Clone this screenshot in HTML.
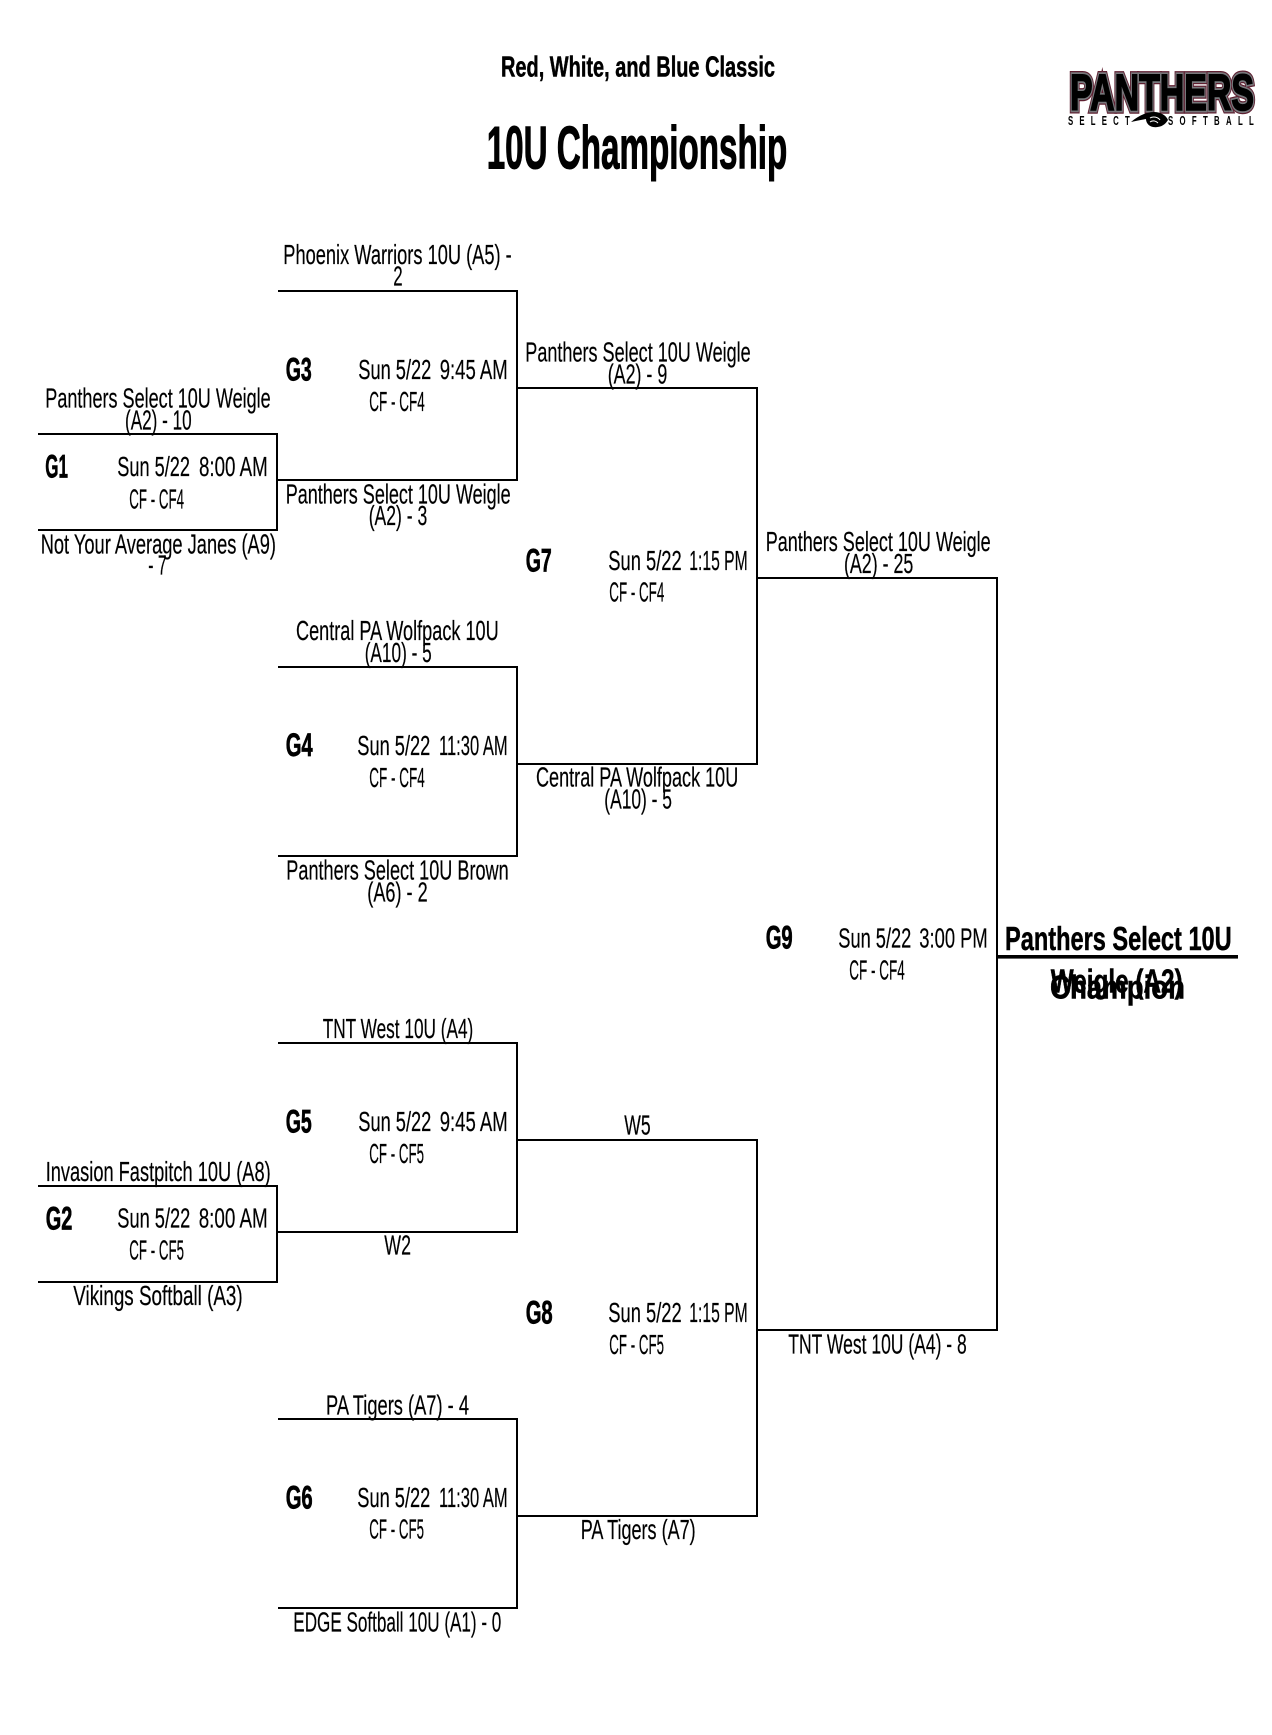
<!DOCTYPE html>
<html lang="en"><head><meta charset="utf-8"><title>10U Championship</title>
<style>
html,body{margin:0;padding:0;background:#fff}
svg{display:block}
text{font-family:"Liberation Sans",sans-serif;fill:#000}
.t{font-size:28px;stroke:#000;stroke-width:.2px;transform:translateY(-.7px)}
.g{font-size:32px;font-weight:700;stroke:#000;stroke-width:.7px;transform:translateY(-.7px)}
.h{font-weight:700;stroke:#000;stroke-width:.5px;transform:translateY(-.7px)}
.b{stroke-width:1.1px}
</style></head><body>
<svg xmlns="http://www.w3.org/2000/svg" width="1272" height="1735" viewBox="0 0 1272 1735">
<rect width="1272" height="1735" fill="#fff"/>
<g fill="none" stroke="#000" stroke-width="2">
<path d="M38 434H277V530H38"/><path d="M38 1186H277V1282H38"/>
<path d="M278 291H517V480H278"/><path d="M278 667H517V856H278"/>
<path d="M278 1043H517V1232H278"/><path d="M278 1419H517V1608H278"/>
<path d="M517 388H757V764H517"/><path d="M517 1140H757V1516H517"/>
<path d="M757 578H997V1330H757"/>
</g>
<rect x="997" y="955" width="241" height="3.6" fill="#000"/>

<text class="h" font-size="29" x="501" y="77.3" textLength="274" lengthAdjust="spacingAndGlyphs">Red, White, and Blue Classic</text>
<text class="h b" font-size="60" x="486.7" y="169.3" textLength="300.6" lengthAdjust="spacingAndGlyphs">10U Championship</text>

<!-- logo -->
<g font-weight="700">
<text x="1070" y="110" font-size="51" textLength="184" lengthAdjust="spacingAndGlyphs" style="fill:#5e1f30;stroke:#5e1f30;stroke-width:7.5;stroke-linejoin:miter">PANTHERS</text>
<text x="1070" y="110" font-size="51" textLength="184" lengthAdjust="spacingAndGlyphs" style="fill:#77777b;stroke:#77777b;stroke-width:5;stroke-linejoin:miter">PANTHERS</text>
<text x="1070" y="110" font-size="51" textLength="184" lengthAdjust="spacingAndGlyphs" style="fill:#000;stroke:#000;stroke-width:1.6">PANTHERS</text>
<text transform="translate(1068 125) scale(.6 1)" font-size="13" textLength="103" lengthAdjust="spacing">SELECT</text>
<text transform="translate(1168 125) scale(.6 1)" font-size="13" textLength="143" lengthAdjust="spacing">SOFTBALL</text>
</g>
<path d="M1131 122C1138 116 1146 112 1154 112C1160 112 1166 115 1168 120C1165 125 1160 128 1153 127C1148 126 1146 122 1146 119C1141 120 1136 121 1131 122Z" fill="#000"/>
<path d="M1150 118C1153 116 1158 117 1160 120M1150 122C1153 120 1156 121 1158 123" fill="none" stroke="#fff" stroke-width="1"/>

<!-- G1 -->
<text class="t" x="45.3" y="408.3" textLength="225.4" lengthAdjust="spacingAndGlyphs">Panthers Select 10U Weigle</text>
<text class="t" x="125" y="430" textLength="66.7" lengthAdjust="spacingAndGlyphs">(A2) - 10</text>
<text class="g" x="45.3" y="478.3" textLength="22.7" lengthAdjust="spacingAndGlyphs">G1</text>
<text class="t" x="117.3" y="476.7" textLength="72.7" lengthAdjust="spacingAndGlyphs">Sun 5/22</text>
<text class="t" x="199" y="476.7" textLength="68.7" lengthAdjust="spacingAndGlyphs">8:00 AM</text>
<text class="t" x="129.3" y="509" textLength="54.7" lengthAdjust="spacingAndGlyphs">CF - CF4</text>
<text class="t" x="40.7" y="554" textLength="235.3" lengthAdjust="spacingAndGlyphs">Not Your Average Janes (A9)</text>
<text class="t" x="148.3" y="575" textLength="18.4" lengthAdjust="spacingAndGlyphs">- 7</text>

<!-- G2 -->
<text class="t" x="45.7" y="1181.7" textLength="225" lengthAdjust="spacingAndGlyphs">Invasion Fastpitch 10U (A8)</text>
<text class="g" x="45.7" y="1230" textLength="26.6" lengthAdjust="spacingAndGlyphs">G2</text>
<text class="t" x="117.3" y="1228.3" textLength="73" lengthAdjust="spacingAndGlyphs">Sun 5/22</text>
<text class="t" x="198.7" y="1228.3" textLength="69" lengthAdjust="spacingAndGlyphs">8:00 AM</text>
<text class="t" x="129.3" y="1260.3" textLength="54.7" lengthAdjust="spacingAndGlyphs">CF - CF5</text>
<text class="t" x="73.3" y="1305.7" textLength="169.4" lengthAdjust="spacingAndGlyphs">Vikings Softball (A3)</text>

<!-- G3 -->
<text class="t" x="283.3" y="264.7" textLength="228.4" lengthAdjust="spacingAndGlyphs">Phoenix Warriors 10U (A5) -</text>
<text class="t" x="393.3" y="286" textLength="9.4" lengthAdjust="spacingAndGlyphs">2</text>
<text class="g" x="285.7" y="381" textLength="26" lengthAdjust="spacingAndGlyphs">G3</text>
<text class="t" x="358.3" y="379.7" textLength="73" lengthAdjust="spacingAndGlyphs">Sun 5/22</text>
<text class="t" x="439.7" y="379.7" textLength="68" lengthAdjust="spacingAndGlyphs">9:45 AM</text>
<text class="t" x="369.3" y="411.7" textLength="55.4" lengthAdjust="spacingAndGlyphs">CF - CF4</text>
<text class="t" x="285.7" y="504" textLength="225" lengthAdjust="spacingAndGlyphs">Panthers Select 10U Weigle</text>
<text class="t" x="368.7" y="525.7" textLength="58.6" lengthAdjust="spacingAndGlyphs">(A2) - 3</text>

<!-- G4 -->
<text class="t" x="296" y="640.7" textLength="202.7" lengthAdjust="spacingAndGlyphs">Central PA Wolfpack 10U</text>
<text class="t" x="364.7" y="662.7" textLength="67" lengthAdjust="spacingAndGlyphs">(A10) - 5</text>
<text class="g" x="285.7" y="756.7" textLength="27" lengthAdjust="spacingAndGlyphs">G4</text>
<text class="t" x="357.3" y="755.7" textLength="73" lengthAdjust="spacingAndGlyphs">Sun 5/22</text>
<text class="t" x="439" y="755.7" textLength="68.7" lengthAdjust="spacingAndGlyphs">11:30 AM</text>
<text class="t" x="369.3" y="787.7" textLength="55.4" lengthAdjust="spacingAndGlyphs">CF - CF4</text>
<text class="t" x="286.3" y="880" textLength="222.4" lengthAdjust="spacingAndGlyphs">Panthers Select 10U Brown</text>
<text class="t" x="367.3" y="902" textLength="60.4" lengthAdjust="spacingAndGlyphs">(A6) - 2</text>

<!-- G5 -->
<text class="t" x="322.7" y="1038.7" textLength="150.6" lengthAdjust="spacingAndGlyphs">TNT West 10U (A4)</text>
<text class="g" x="285.7" y="1133" textLength="26" lengthAdjust="spacingAndGlyphs">G5</text>
<text class="t" x="358.3" y="1131.7" textLength="73" lengthAdjust="spacingAndGlyphs">Sun 5/22</text>
<text class="t" x="439.7" y="1131.7" textLength="68" lengthAdjust="spacingAndGlyphs">9:45 AM</text>
<text class="t" x="369.3" y="1163.5" textLength="54.7" lengthAdjust="spacingAndGlyphs">CF - CF5</text>
<text class="t" x="384.3" y="1255" textLength="26.7" lengthAdjust="spacingAndGlyphs">W2</text>

<!-- G6 -->
<text class="t" x="326" y="1415" textLength="143" lengthAdjust="spacingAndGlyphs">PA Tigers (A7) - 4</text>
<text class="g" x="285.7" y="1509" textLength="27" lengthAdjust="spacingAndGlyphs">G6</text>
<text class="t" x="357.3" y="1507.7" textLength="73" lengthAdjust="spacingAndGlyphs">Sun 5/22</text>
<text class="t" x="439" y="1507.7" textLength="68.7" lengthAdjust="spacingAndGlyphs">11:30 AM</text>
<text class="t" x="369.3" y="1539.3" textLength="54.7" lengthAdjust="spacingAndGlyphs">CF - CF5</text>
<text class="t" x="293.3" y="1632" textLength="208" lengthAdjust="spacingAndGlyphs">EDGE Softball 10U (A1) - 0</text>

<!-- G7 -->
<text class="t" x="525.3" y="362" textLength="225.4" lengthAdjust="spacingAndGlyphs">Panthers Select 10U Weigle</text>
<text class="t" x="607.7" y="384" textLength="59.6" lengthAdjust="spacingAndGlyphs">(A2) - 9</text>
<text class="g" x="525.7" y="572" textLength="26" lengthAdjust="spacingAndGlyphs">G7</text>
<text class="t" x="608.3" y="570.7" textLength="73.4" lengthAdjust="spacingAndGlyphs">Sun 5/22</text>
<text class="t" x="689.3" y="570.7" textLength="58.4" lengthAdjust="spacingAndGlyphs">1:15 PM</text>
<text class="t" x="609.3" y="602.3" textLength="55" lengthAdjust="spacingAndGlyphs">CF - CF4</text>
<text class="t" x="536" y="787.3" textLength="202.3" lengthAdjust="spacingAndGlyphs">Central PA Wolfpack 10U</text>
<text class="t" x="604.3" y="809.3" textLength="67.7" lengthAdjust="spacingAndGlyphs">(A10) - 5</text>

<!-- G8 -->
<text class="t" x="624.3" y="1135.3" textLength="26.4" lengthAdjust="spacingAndGlyphs">W5</text>
<text class="g" x="525.7" y="1324" textLength="27" lengthAdjust="spacingAndGlyphs">G8</text>
<text class="t" x="608.3" y="1322.7" textLength="73.4" lengthAdjust="spacingAndGlyphs">Sun 5/22</text>
<text class="t" x="689.3" y="1322.7" textLength="58.4" lengthAdjust="spacingAndGlyphs">1:15 PM</text>
<text class="t" x="609.3" y="1354.7" textLength="54.7" lengthAdjust="spacingAndGlyphs">CF - CF5</text>
<text class="t" x="580.7" y="1539.7" textLength="115" lengthAdjust="spacingAndGlyphs">PA Tigers (A7)</text>

<!-- G9 -->
<text class="t" x="765.7" y="551.7" textLength="225" lengthAdjust="spacingAndGlyphs">Panthers Select 10U Weigle</text>
<text class="t" x="844" y="573.7" textLength="69.3" lengthAdjust="spacingAndGlyphs">(A2) - 25</text>
<text class="g" x="765.7" y="949.3" textLength="27" lengthAdjust="spacingAndGlyphs">G9</text>
<text class="t" x="838.3" y="948.3" textLength="73" lengthAdjust="spacingAndGlyphs">Sun 5/22</text>
<text class="t" x="919.3" y="948.3" textLength="68.4" lengthAdjust="spacingAndGlyphs">3:00 PM</text>
<text class="t" x="849.3" y="980.3" textLength="55.4" lengthAdjust="spacingAndGlyphs">CF - CF4</text>
<text class="t" x="788.3" y="1354" textLength="178.4" lengthAdjust="spacingAndGlyphs">TNT West 10U (A4) - 8</text>

<!-- Champion -->
<text class="h" font-size="33" x="1005" y="950.7" textLength="226.7" lengthAdjust="spacingAndGlyphs">Panthers Select 10U</text>
<text class="h" font-size="33" x="1050.7" y="993" textLength="132" lengthAdjust="spacingAndGlyphs">Weigle (A2)</text>
<text class="h" font-size="33" x="1050" y="999" textLength="135" lengthAdjust="spacingAndGlyphs">Champion</text>
</svg>
</body></html>
